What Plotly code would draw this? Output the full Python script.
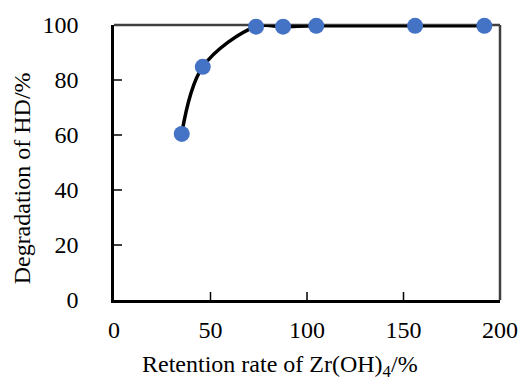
import plotly.graph_objects as go

retention = [35.1, 46.0, 73.6, 87.6, 104.8, 156.0, 191.9]
degradation = [60.4, 84.8, 99.4, 99.4, 99.7, 99.7, 99.7]
x_ticks = [0, 50, 100, 150, 200]
y_ticks = [0, 20, 40, 60, 80, 100]

font_family = "Times New Roman"
PLOT_W, PLOT_H = 386, 275
TICK_PX = 8


def serif_label(v):
    return "<span style='font-family:Liberation Serif, Times New Roman, serif'>%s</span>" % v


fig = go.Figure()
fig.add_trace(go.Scatter(
    x=retention, y=degradation, mode="lines+markers",
    line=dict(color="black", width=3.5, shape="spline", smoothing=1.0),
    marker=dict(color="#4472C4", size=16),
    cliponaxis=False, showlegend=False,
))

# page body has an 8px margin: figure sits at (8, 8) in the window
fig.update_layout(
    width=520, height=373,
    margin=dict(l=106, r=28, t=17, b=81),
    paper_bgcolor="white", plot_bgcolor="white",
    font=dict(family=font_family, size=24, color="black"),
    xaxis=dict(
        range=[0, 200], tickvals=x_ticks, ticktext=[serif_label(v) for v in x_ticks],
        ticks="outside", ticklen=6, automargin=False,
        tickcolor="rgba(0,0,0,0)", showline=True, linecolor="black", linewidth=2.5,
        showgrid=False, zeroline=False,
        tickfont=dict(family="Liberation Serif", size=24, color="black"),
    ),
    yaxis=dict(
        range=[0, 100], tickvals=y_ticks, ticktext=[serif_label(v) for v in y_ticks],
        ticks="outside", ticklen=28, automargin=False,
        tickcolor="rgba(0,0,0,0)", showline=True, linecolor="black", linewidth=2.5,
        showgrid=False, zeroline=False,
        tickfont=dict(family="Liberation Serif", size=24, color="black"),
    ),
    annotations=[
        dict(text="Retention rate of Zr(OH)<sub>4</sub>/%", xref="paper", yref="paper",
             x=0.43, y=-0.24, xanchor="center", yanchor="middle", showarrow=False),
        dict(text="Degradation of HD/%", xref="paper", yref="paper",
             x=-0.236, y=0.442, xanchor="center", yanchor="middle", showarrow=False,
             textangle=-90),
    ],
)

fig.add_shape(type="line", xref="paper", yref="paper", x0=0, x1=1, y0=1, y1=1,
              line=dict(color="#404040", width=2.5), layer="below")
fig.add_shape(type="line", xref="paper", yref="paper", x0=1, x1=1, y0=0, y1=1,
              line=dict(color="#404040", width=2.5), layer="below")

# inside tick marks, placed at the axis tick values
for xv in x_ticks[1:-1]:
    fig.add_shape(type="line", xref="x", yref="paper", x0=xv, x1=xv,
                  y0=0, y1=TICK_PX / PLOT_H, line=dict(color="black", width=1.5))
for yv in y_ticks[1:-1]:
    fig.add_shape(type="line", xref="paper", yref="y", x0=0, x1=TICK_PX / PLOT_W,
                  y0=yv, y1=yv, line=dict(color="black", width=1.5))

fig.write_html("out.html")
